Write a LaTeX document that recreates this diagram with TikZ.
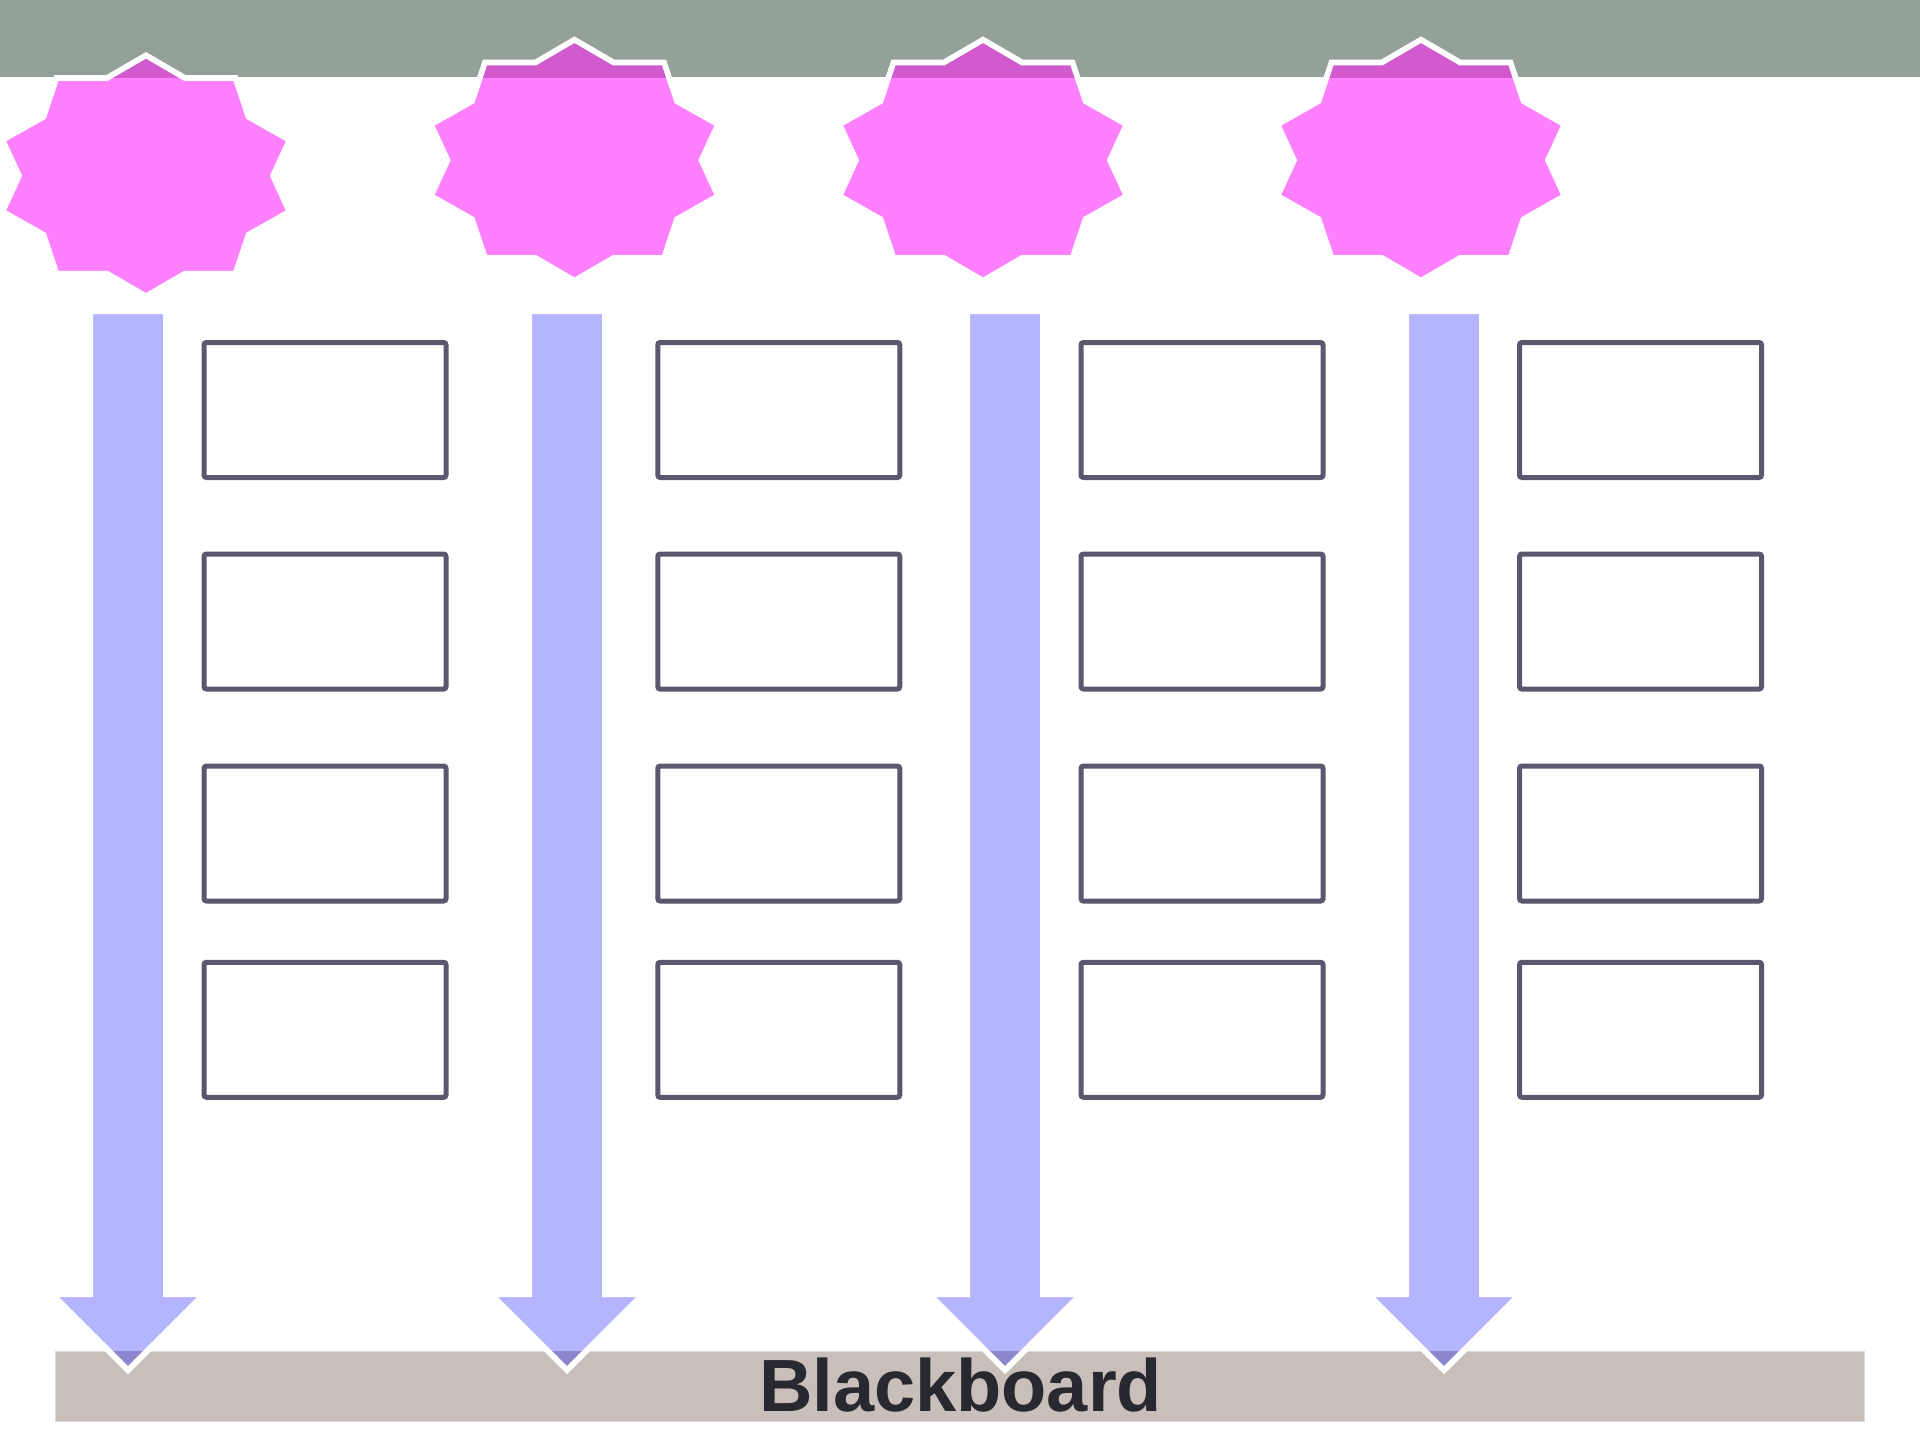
\documentclass[tikz,border=0pt]{standalone}
\usepackage{fontspec}
\setmainfont{Liberation Sans}
\definecolor{bandgray}{RGB}{147,161,153}
\definecolor{starpink}{RGB}{255,128,255}
\definecolor{stardark}{RGB}{208,90,206}
\definecolor{arrowblue}{RGB}{180,180,255}
\definecolor{arrowdark}{RGB}{140,135,205}
\definecolor{boardc}{RGB}{201,191,186}
\definecolor{boardedge}{RGB}{222,216,212}
\definecolor{boxc}{RGB}{89,88,111}
\definecolor{textc}{RGB}{40,40,48}
\def\starshape{(0,-120.5) -- (39,-97.8) -- (89.5,-97.8) -- (102.5,-59) -- (143.5,-35.8) -- (127,0) -- (143.5,35.8) -- (102.5,59) -- (89.5,97.8) -- (39,97.8) -- (0,120.5) -- (-39,97.8) -- (-89.5,97.8) -- (-102.5,59) -- (-143.5,35.8) -- (-127,0) -- (-143.5,-35.8) -- (-102.5,-59) -- (-89.5,-97.8) -- (-39,-97.8) -- cycle}
\def\arrowshape{(-37.85,0) -- (37.85,0) -- (37.85,983) -- (76,983) -- (0,1059) -- (-76,983) -- (-37.85,983) -- cycle}
\begin{document}
\begin{tikzpicture}[x=0.5pt,y=-0.5pt,
  bandstyle/.style={fill=bandgray, draw=none},
  boardstyle/.style={fill=boardc, draw=boardedge, line width=0.5pt, minimum width=904.3pt, minimum height=35pt, inner sep=0pt, outer sep=0pt},
  boxstyle/.style={draw=boxc, line width=2.5pt, fill=white, rounded corners=1.2pt, minimum width=121pt, minimum height=67.5pt, inner sep=0pt, outer sep=0pt},
  outline/.style={draw=white, line width=2.85pt, line join=miter},
  labelstyle/.style={font=\fontsize{37pt}{44pt}\selectfont\bfseries, text=textc, inner sep=0pt, anchor=base}]
\useasboundingbox (0,0) rectangle (1920,1440);
\fill[white] (0,0) rectangle (1920,1440);
% top band
\node[bandstyle, minimum width=960pt, minimum height=38.5pt, inner sep=0pt, outer sep=0pt] (band) at (960,38.5) {};
% blackboard
\node[boardstyle] (bb) at (960,1386) {};
% stars
\foreach \i/\cx/\cy in {1/146/175.8, 2/574.5/160.2, 3/983/160.2, 4/1421/160.2}{
  \coordinate (star\i) at (\cx,\cy);
  \fill[starpink, shift={(star\i)}] \starshape;
  \begin{scope}
    \clip (band.north west) rectangle (band.south east);
    \fill[stardark, shift={(star\i)}] \starshape;
  \end{scope}
  \draw[outline, shift={(star\i)}] \starshape;
}
% arrows
\foreach \i/\cx in {1/128, 2/567, 3/1005, 4/1444}{
  \coordinate (arr\i) at (\cx,311.2);
  \fill[arrowblue, shift={(arr\i)}] \arrowshape;
  \begin{scope}
    \clip (bb.north west) rectangle (bb.south east);
    \fill[arrowdark, shift={(arr\i)}] \arrowshape;
  \end{scope}
  \draw[outline, shift={(arr\i)}] \arrowshape;
}
% boxes
\foreach \c/\bx in {1/325, 2/778.75, 3/1202, 4/1640.5}{
  \foreach \r/\by in {1/410, 2/621.5, 3/833.5, 4/1029.75}{
    \node[boxstyle] (box\c\r) at (\bx,\by) {};
  }
}
% label
\node[labelstyle] (bblabel) at (960.5,1411) {Blackboard};
\end{tikzpicture}
\end{document}
